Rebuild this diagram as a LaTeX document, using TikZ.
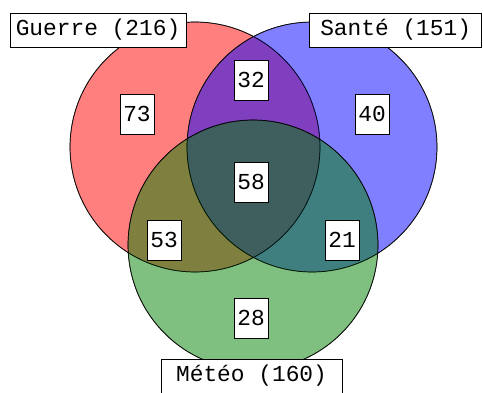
\documentclass[tikz,border=0pt]{standalone}
\usepackage{fontspec}
\setmonofont{Liberation Mono}
\begin{document}
\begin{tikzpicture}[x=0.02cm, y=-0.02cm,
      ensemble/.style={draw=black, draw opacity=0.8, fill opacity=0.5},
      effectif/.style={draw, fill=white, font=\ttfamily\fontsize{13}{15}\selectfont,
        inner sep=0pt, minimum width=0.68cm, minimum height=0.8cm},
      titre/.style={draw, fill=white, font=\ttfamily\fontsize{13}{15}\selectfont,
        inner sep=0pt, minimum height=0.68cm}]
      \useasboundingbox (0, 0) rectangle (483, 392);
      \definecolor{vert}{RGB}{0,128,0}
      \fill[ensemble, fill=red] (195, 147) circle[radius=2.5cm];
      \fill[ensemble, fill=blue] (312, 147) circle[radius=2.5cm];
      \fill[ensemble, fill=vert] (253, 245) circle[radius=2.5cm];
      \draw[draw opacity=0.8] (195, 147) circle[radius=2.5cm];
      \draw[draw opacity=0.8] (312, 147) circle[radius=2.5cm];
      \draw[draw opacity=0.8] (253, 245) circle[radius=2.5cm];
      \node[effectif] (g) at (137, 114) {73};
      \node[effectif] (gs) at (251, 80) {32};
      \node[effectif] (s) at (372, 114) {40};
      \node[effectif] (gsm) at (251, 182) {58};
      \node[effectif] (gm) at (164, 240) {53};
      \node[effectif] (sm) at (342, 240) {21};
      \node[effectif] (m) at (251, 318) {28};
      \node[titre, minimum width=3.52cm] (guerre) at (98, 30) {Guerre (216)};
      \node[titre, minimum width=3.44cm, anchor=east] (sante) at (482, 30) {Santé (151)};
      \node[titre, minimum width=3.62cm] (meteo) at (251.5, 376) {Météo (160)};
      \end{tikzpicture}
\end{document}
